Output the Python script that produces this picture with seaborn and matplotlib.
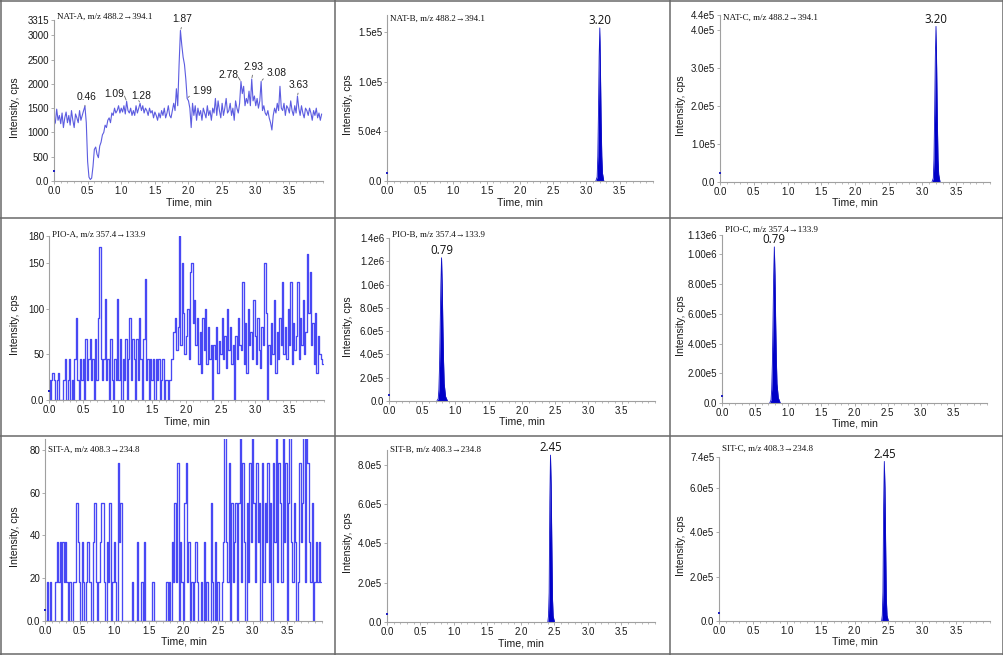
import numpy as np
import pandas as pd
import matplotlib
matplotlib.use("Agg")
import matplotlib.pyplot as plt
from matplotlib.lines import Line2D
from matplotlib.ticker import FixedLocator, MultipleLocator
import seaborn as sns

# ---------------------------------------------------------------- data
x_ticks = [0.0, 0.5, 1.0, 1.5, 2.0, 2.5, 3.0, 3.5]
x_tick_labels = ["0.0", "0.5", "1.0", "1.5", "2.0", "2.5", "3.0", "3.5"]

trace_step = 0.02  # sampling interval of the noisy (blank) traces, min

nat_a_vals = [
    1150, 1200, 1480, 1250, 1350, 1180, 1400, 1100, 1300, 1420,
    1200, 1350, 1150, 1450, 1250, 1100, 1380, 1300, 1200, 1450,
    1250, 1350, 1450, 1540, 1200, 400, 80, 30, 60, 300,
    650, 700, 550, 480, 720, 800, 950, 1000, 1150, 1100,
    1250, 1300, 1200, 1400, 1350, 1500, 1400, 1450, 1550, 1400,
    1500, 1420, 1550, 1380, 1640, 1450, 1400, 1500, 1350, 1450,
    1350, 1550, 1400, 1500, 1600, 1450, 1550, 1400, 1500, 1450,
    1350, 1500, 1400, 1450, 1300, 1420, 1350, 1250, 1400, 1300,
    1450, 1350, 1500, 1300, 1400, 1550, 1350, 1300, 1450, 1600,
    1450, 1900, 1550, 2400, 3100, 2800, 2550, 2400, 2100, 1700,
    1650, 1500, 1100, 1600, 1350, 1550, 1250, 1500, 1350, 1450,
    1250, 1500, 1400, 1300, 1550, 1350, 1450, 1250, 1500, 1400,
    1700, 1350, 1650, 1450, 1300, 1600, 1350, 1500, 1700, 1400,
    1450, 1600, 1350, 1500, 1250, 1650, 1500, 1400, 1600, 2050,
    1800, 1950, 1550, 1700, 1600, 1850, 1550, 2100, 1650, 1750,
    1550, 1700, 1500, 1650, 2050, 1450, 1550, 1400, 1350, 1450,
    1300, 1200, 1050, 1350, 1500, 1400, 1600, 1450, 1950, 1500,
    1450, 1600, 1350, 1550, 1500, 1400, 1650, 1450, 1350, 1550,
    1400, 1750, 1500, 1350, 1550, 1400, 1300, 1500, 1450, 1350,
    1500, 1400, 1250, 1450, 1350, 1500, 1300, 1400, 1250, 1380,
]

pio_a_vals = [
    22, 0, 22, 30, 22, 0, 22, 30, 0, 0,
    0, 22, 45, 0, 22, 45, 0, 22, 0, 45,
    90, 22, 0, 45, 22, 45, 0, 67, 22, 45,
    67, 22, 45, 0, 67, 22, 90, 168, 45, 22,
    45, 111, 22, 45, 0, 67, 22, 0, 45, 22,
    111, 22, 67, 0, 45, 22, 67, 0, 45, 90,
    22, 67, 45, 0, 67, 22, 90, 45, 0, 67,
    133, 22, 45, 0, 45, 22, 45, 0, 45, 22,
    45, 0, 22, 45, 0, 22, 22, 0, 22, 45,
    45, 75, 90, 55, 80, 180, 60, 150, 95, 50,
    70, 100, 45, 140, 150, 85, 110, 60, 90, 40,
    75, 30, 90, 55, 100, 40, 80, 45, 60, 0,
    60, 45, 80, 30, 65, 50, 90, 45, 70, 35,
    100, 55, 80, 40, 60, 0, 70, 45, 90, 60,
    55, 130, 40, 85, 30, 100, 60, 75, 45, 110,
    70, 40, 90, 55, 35, 80, 60, 150, 95, 0,
    60, 40, 85, 50, 110, 30, 75, 45, 90, 60,
    130, 50, 80, 45, 100, 60, 130, 40, 85, 55,
    70, 130, 45, 90, 60, 110, 50, 75, 160, 95,
    140, 60, 85, 40, 95, 30, 70, 50, 45, 40,
]

sit_a_vals = [
    0, 0, 18, 0, 18, 0, 0, 0, 18, 37,
    18, 37, 0, 37, 18, 37, 18, 0, 18, 0,
    0, 18, 18, 55, 37, 18, 0, 37, 18, 0,
    18, 37, 18, 18, 0, 37, 55, 18, 0, 18,
    37, 55, 55, 18, 0, 37, 18, 55, 0, 18,
    37, 18, 0, 74, 37, 55, 0, 0, 0, 0,
    0, 0, 0, 18, 0, 0, 0, 37, 0, 0,
    18, 0, 37, 0, 0, 0, 0, 0, 18, 0,
    0, 0, 0, 0, 0, 0, 0, 0, 18, 0,
    18, 0, 37, 18, 55, 18, 74, 0, 37, 18,
    0, 55, 74, 18, 37, 0, 18, 0, 18, 37,
    18, 0, 0, 18, 0, 37, 0, 18, 0, 0,
    55, 18, 0, 37, 0, 18, 0, 0, 18, 37,
    92, 37, 18, 74, 0, 55, 18, 37, 55, 0,
    55, 92, 18, 74, 37, 0, 55, 18, 74, 37,
    92, 55, 18, 74, 37, 55, 0, 74, 18, 55,
    37, 74, 18, 55, 0, 74, 37, 92, 18, 74,
    55, 18, 92, 37, 74, 0, 55, 92, 37, 18,
    55, 37, 0, 18, 74, 37, 55, 92, 18, 92,
    74, 37, 18, 55, 0, 18, 37, 18, 37, 18,
]

nat_peak_time = [3.14, 3.16, 3.17, 3.18, 3.19, 3.20, 3.21, 3.22, 3.23, 3.24, 3.26]
nat_b_vals = [0, 4e3, 2.5e4, 7e4, 1.25e5, 1.54e5, 1.1e5, 6e4, 2.5e4, 8e3, 0]
nat_c_vals = [0, 1e4, 6e4, 1.8e5, 3.3e5, 4.1e5, 3.0e5, 1.6e5, 6e4, 2e4, 0]

pio_peak_time = [0.72, 0.74, 0.75, 0.76, 0.77, 0.78, 0.79, 0.80, 0.81, 0.82, 0.83, 0.85, 0.88]
pio_b_vals = [0, 2e4, 1e5, 3e5, 6.5e5, 1.0e6, 1.23e6, 1.0e6, 6.5e5, 3.5e5, 1.5e5, 4e4, 0]
pio_c_vals = [0, 2e4, 9e4, 2.6e5, 5.5e5, 8.6e5, 1.05e6, 8.6e5, 5.5e5, 3e5, 1.3e5, 3.5e4, 0]

sit_peak_time = [2.40, 2.41, 2.42, 2.43, 2.44, 2.45, 2.46, 2.47, 2.48, 2.50]
sit_b_vals = [0, 3e4, 1.5e5, 6.1e5, 8.5e5, 7.0e5, 4.0e5, 1.2e5, 3e4, 0]
sit_c_vals = [0, 2.5e4, 1.3e5, 5.2e5, 7.2e5, 6.0e5, 3.4e5, 1.0e5, 2.5e4, 0]

nat_a_peak_labels = ["0.46", "1.09", "1.28", "1.87", "1.99", "2.78", "2.93", "3.08", "3.63"]
nat_a_peak_times = [0.46, 1.08, 1.28, 1.88, 1.98, 2.78, 2.94, 3.08, 3.62]

titles = {
    "NAT-A": "NAT-A, m/z 488.2\u2192394.1", "NAT-B": "NAT-B, m/z 488.2\u2192394.1",
    "NAT-C": "NAT-C, m/z 488.2\u2192394.1", "PIO-A": "PIO-A, m/z 357.4\u2192133.9",
    "PIO-B": "PIO-B, m/z 357.4\u2192133.9", "PIO-C": "PIO-C, m/z 357.4\u2192133.9",
    "SIT-A": "SIT-A, m/z 408.3\u2192234.8", "SIT-B": "SIT-B, m/z 408.3\u2192234.8",
    "SIT-C": "SIT-C, m/z 408.3\u2192234.8",
}

y_ticks = {
    "NAT-A": ([0, 500, 1000, 1500, 2000, 2500, 3000, 3315],
              ["0.0", "500", "1000", "1500", "2000", "2500", "3000", "3315"]),
    "NAT-B": ([0, 5e4, 1e5, 1.5e5], ["0.0", "5.0e4", "1.0e5", "1.5e5"]),
    "NAT-C": ([0, 1e5, 2e5, 3e5, 4e5, 4.4e5], ["0.0", "1.0e5", "2.0e5", "3.0e5", "4.0e5", "4.4e5"]),
    "PIO-A": ([0, 50, 100, 150, 180], ["0.0", "50", "100", "150", "180"]),
    "PIO-B": ([0, 2e5, 4e5, 6e5, 8e5, 1e6, 1.2e6, 1.4e6],
              ["0.0", "2.0e5", "4.0e5", "6.0e5", "8.0e5", "1.0e6", "1.2e6", "1.4e6"]),
    "PIO-C": ([0, 2e5, 4e5, 6e5, 8e5, 1e6, 1.13e6],
              ["0.0", "2.00e5", "4.00e5", "6.00e5", "8.00e5", "1.00e6", "1.13e6"]),
    "SIT-A": ([0, 20, 40, 60, 80], ["0.0", "20", "40", "60", "80"]),
    "SIT-B": ([0, 2e5, 4e5, 6e5, 8e5], ["0.0", "2.0e5", "4.0e5", "6.0e5", "8.0e5"]),
    "SIT-C": ([0, 2e5, 4e5, 6e5, 7.4e5], ["0.0", "2.0e5", "4.0e5", "6.0e5", "7.4e5"]),
}
y_max = {"NAT-A": 3315, "NAT-B": 1.67e5, "NAT-C": 4.4e5, "PIO-A": 180, "PIO-B": 1.4e6,
         "PIO-C": 1.13e6, "SIT-A": 85, "SIT-B": 8.76e5, "SIT-C": 7.4e5}
start_value = {"NAT-A": 200, "NAT-B": 8e3, "NAT-C": 2.5e4, "PIO-A": 10, "PIO-B": 5e4,
               "PIO-C": 5e4, "SIT-A": 5, "SIT-B": 4e4, "SIT-C": 3.5e4}
peak_rt = {"NAT-B": "3.20", "NAT-C": "3.20", "PIO-B": "0.79", "PIO-C": "0.79",
           "SIT-B": "2.45", "SIT-C": "2.45"}

# ---------------------------------------------------------------- style / layout
W, H = 1004, 655
sns.set_theme(style="white")
plt.rcParams["font.family"] = ["Liberation Sans", "DejaVu Sans"]

fig = plt.figure(figsize=(W / 100, H / 100), dpi=100)
fig.patch.set_facecolor("white")

cells_x = [0, 335, 670]
cells_y = [0, 218, 436]
rects = {  # left, top, right, bottom in pixels
    "NAT-A": (54, 20, 323, 181), "NAT-B": (387, 15, 653, 181), "NAT-C": (720, 15, 990, 182),
    "PIO-A": (49, 236, 324, 400), "PIO-B": (389, 238, 655, 401), "PIO-C": (722, 235, 987, 403),
    "SIT-A": (45, 439, 322, 621), "SIT-B": (387, 450, 655, 622), "SIT-C": (719, 457, 990, 621),
}
title_dy = {"NAT-A": 17, "NAT-B": 19, "NAT-C": 18, "PIO-A": 17, "PIO-B": 17, "PIO-C": 12,
            "SIT-A": 14, "SIT-B": 14, "SIT-C": 13}
ylabel_cx = [15, 13, 11]
grid_names = [["NAT-A", "NAT-B", "NAT-C"], ["PIO-A", "PIO-B", "PIO-C"], ["SIT-A", "SIT-B", "SIT-C"]]

trace_data = {"NAT-A": nat_a_vals, "PIO-A": pio_a_vals, "SIT-A": sit_a_vals}
peak_data = {"NAT-B": (nat_peak_time, nat_b_vals), "NAT-C": (nat_peak_time, nat_c_vals),
             "PIO-B": (pio_peak_time, pio_b_vals), "PIO-C": (pio_peak_time, pio_c_vals),
             "SIT-B": (sit_peak_time, sit_b_vals), "SIT-C": (sit_peak_time, sit_c_vals)}

nat_a_text_xy = [(0.49, 1730), (0.90, 1790), (1.29, 1760), (1.91, 3330), (2.21, 1855),
                 (2.59, 2180), (2.96, 2350), (3.31, 2225), (3.64, 1980)]
nat_a_relpos = [(0.4, 0), (1, 0.3), (0.4, 0), (0.5, 0), (0, 0.3), (1, 0.3), (0.5, 0), (0, 0.3), (0.5, 0)]

SPINE = "#a0a0a0"
TXT = "#1a1a1a"
NOISE_BLUE = "#4848f4"

for r, row in enumerate(grid_names):
    for c, name in enumerate(row):
        l, t, rr, b = rects[name]
        ax = fig.add_axes([l / W, 1 - b / H, (rr - l) / W, (b - t) / H])
        ax.set_facecolor("white")
        if name in trace_data:
            vals = trace_data[name]
            df = pd.DataFrame({"t": np.arange(len(vals)) * trace_step, "y": vals})
            if name == "NAT-A":
                sns.lineplot(data=df, x="t", y="y", ax=ax, color="#5c5ce0", lw=0.8,
                             estimator=None, sort=False)
            else:
                sns.lineplot(data=df, x="t", y="y", ax=ax, color=NOISE_BLUE, lw=0.95,
                             estimator=None, sort=False, drawstyle="steps-mid")
        else:
            pt, pv = peak_data[name]
            df = pd.DataFrame({"t": pt, "y": pv})
            sns.lineplot(data=df, x="t", y="y", ax=ax, color="#1010c8", lw=0.6,
                         estimator=None, sort=False)
            ax.fill_between(df["t"], 0, df["y"], color="#0000c8", lw=0)
            imax = int(np.argmax(pv))
            ax.annotate(peak_rt[name], xy=(pt[imax], pv[imax]), xytext=(0, 0.5),
                        textcoords="offset points", ha="center", va="bottom",
                        fontsize=8.3, color="#111111", family=["Open Sans", "DejaVu Sans"],
                        annotation_clip=False)
        # first sample at t = 0
        sdf = pd.DataFrame({"t": [0.0], "y": [start_value[name]]})
        sns.scatterplot(data=sdf, x="t", y="y", ax=ax, color="#2020c0", marker="s", s=3,
                        linewidth=0, clip_on=False, zorder=5)

        ax.set_xlim(0, 4.0)
        ax.set_ylim(0, y_max[name])
        ax.xaxis.set_major_locator(FixedLocator(x_ticks))
        ax.set_xticklabels(x_tick_labels)
        ax.xaxis.set_minor_locator(MultipleLocator(0.1))
        yt, ytl = y_ticks[name]
        ax.yaxis.set_major_locator(FixedLocator(yt))
        ax.set_yticklabels(ytl)
        for s in ["top", "right"]:
            ax.spines[s].set_visible(False)
        for s in ["left", "bottom"]:
            ax.spines[s].set_color(SPINE)
            ax.spines[s].set_linewidth(0.8)
        ax.tick_params(axis="both", which="major", length=2.5, width=0.6, color=SPINE,
                       labelsize=7.0, labelcolor=TXT, pad=1, bottom=True, left=True)
        ax.tick_params(axis="x", which="minor", length=1.5, width=0.5, color=SPINE, bottom=True)
        hpx = b - t
        wpx = rr - l
        ax.set_xlabel("Time, min", fontsize=7.6, color=TXT)
        ax.set_ylabel("Intensity, cps", fontsize=7.6, color=TXT)
        ax.xaxis.set_label_coords(0.5, -16 / hpx)
        ax.yaxis.set_label_coords((cells_x[c] + ylabel_cx[c] + 5 - l) / wpx, 0.5 - 7 / hpx)

        ax.text((l + 3) / W, 1 - (cells_y[r] + title_dy[name]) / H, titles[name],
                transform=fig.transFigure, ha="left", va="center", fontsize=6.5,
                family=["Liberation Serif", "DejaVu Serif"], color="#111111")

        if name == "NAT-A":
            tarr = np.arange(len(nat_a_vals)) * trace_step
            for lab, pt_, txy, rp in zip(nat_a_peak_labels, nat_a_peak_times, nat_a_text_xy, nat_a_relpos):
                i = int(np.argmin(np.abs(tarr - pt_)))
                ax.annotate(lab, xy=(tarr[i], nat_a_vals[i]), xytext=txy, textcoords="data",
                            ha="center", va="center", fontsize=7.4, color=TXT,
                            annotation_clip=False,
                            arrowprops=dict(arrowstyle="-", color="#666666", lw=0.6,
                                            shrinkA=0, shrinkB=1, relpos=rp))

# cell borders
for xb in [1, 335, 670, 1003]:
    fig.add_artist(Line2D([xb / W, xb / W], [0, 1], color="#6a6a6a", lw=1.1))
for yb in [1, 218, 436, 654]:
    fig.add_artist(Line2D([0, 1], [1 - yb / H, 1 - yb / H], color="#6a6a6a", lw=1.1))

fig.savefig("out.png", dpi=100, facecolor="white")
